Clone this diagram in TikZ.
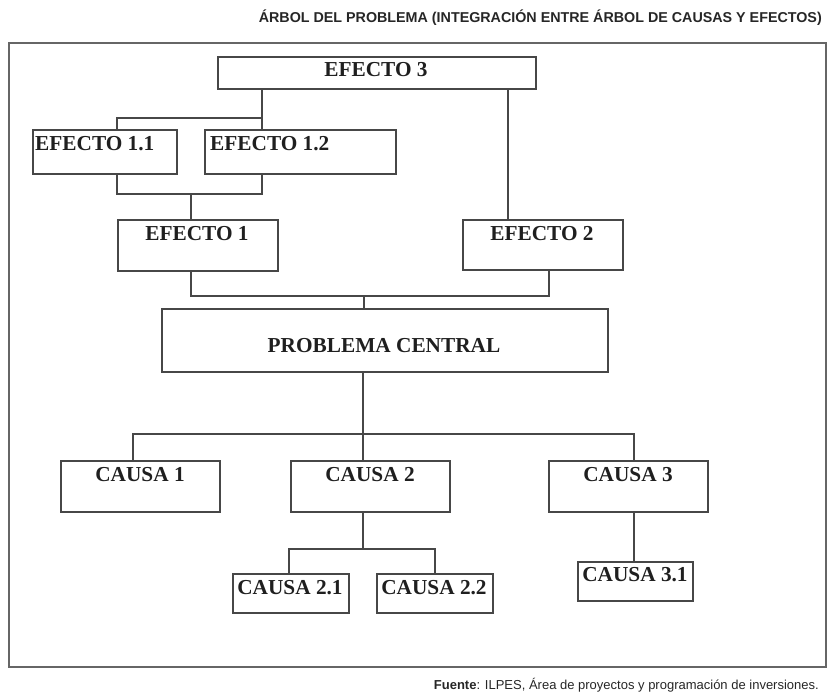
\documentclass[tikz,border=0pt]{standalone}
\usepackage{fontspec}
\setmainfont{Liberation Serif}
\newfontfamily\sansfont{Liberation Sans}
\begin{document}
\begin{tikzpicture}[x=1pt,y=-1pt,
  wire/.style={draw=black!72, line width=1.7pt},
  box/.style={draw=black!72, line width=1.7pt, rectangle, inner sep=0pt, anchor=north west},
  lbl/.style={font=\fontsize{21.3}{21}\selectfont\bfseries, text=black!88, inner sep=0pt, anchor=base},
  lbll/.style={lbl, anchor=base west},
  frame/.style={draw=black!60, line width=1.8pt},
  ]
\useasboundingbox (0,0) rectangle (828,694);

% title and source
\node[font=\sansfont\bfseries\fontsize{14.3}{14}\selectfont, text=black!85, anchor=base east, inner sep=0pt]
  (title) at (822,22) {ÁRBOL DEL PROBLEMA (INTEGRACIÓN ENTRE ÁRBOL DE CAUSAS Y EFECTOS)};
\node[font=\sansfont\fontsize{13}{13}\selectfont, text=black!85, anchor=base east, inner sep=0pt]
  (src) at (819,689) {\textbf{Fuente}: ILPES, Área de proyectos y programación de inversiones.};

% outer frame
\draw[frame] (9,43) rectangle (826,667);

% effect boxes
\node[box, minimum width=318pt, minimum height=32pt] (e3)  at (217,56) {};
\node[box, minimum width=144pt, minimum height=44pt] (e11) at (32,129) {};
\node[box, minimum width=191pt, minimum height=44pt] (e12) at (204,129) {};
\node[box, minimum width=160pt, minimum height=51pt] (e1)  at (117,219) {};
\node[box, minimum width=160pt, minimum height=50pt] (e2)  at (462,219) {};
% central problem
\node[box, minimum width=446pt, minimum height=63pt] (pc)  at (161,308) {};
% cause boxes
\node[box, minimum width=159pt, minimum height=51pt] (c1)  at (60,460) {};
\node[box, minimum width=159pt, minimum height=51pt] (c2)  at (290,460) {};
\node[box, minimum width=159pt, minimum height=51pt] (c3)  at (548,460) {};
\node[box, minimum width=116pt, minimum height=39pt] (c21) at (232,573) {};
\node[box, minimum width=116pt, minimum height=39pt] (c22) at (376,573) {};
\node[box, minimum width=115pt, minimum height=39pt] (c31) at (577,561) {};

% labels
\node[lbl]  (e3t)  at (376,76)  {EFECTO 3};
\node[lbll] (e11t) at (35,150)  {EFECTO 1.1};
\node[lbll] (e12t) at (210,150) {EFECTO 1.2};
\node[lbl]  (e1t)  at (197,240) {EFECTO 1};
\node[lbl]  (e2t)  at (542,240) {EFECTO 2};
\node[lbl]  (pct)  at (384,352) {PROBLEMA CENTRAL};
\node[lbl]  (c1t)  at (140,481) {CAUSA 1};
\node[lbl]  (c2t)  at (370,481) {CAUSA 2};
\node[lbl]  (c3t)  at (628,481) {CAUSA 3};
\node[lbl]  (c21t) at (290,594) {CAUSA 2.1};
\node[lbl]  (c22t) at (434,594) {CAUSA 2.2};
\node[lbl]  (c31t) at (635,581) {CAUSA 3.1};

% junction points
\coordinate (ja) at (262,118);
\coordinate (jb) at (117,118);
\coordinate (jc) at (117,194);
\coordinate (jd) at (262,194);
\coordinate (je) at (191,194);
\coordinate (ji) at (508,150);
\coordinate (jf) at (191,296);
\coordinate (jg) at (549,296);
\coordinate (jh) at (364,296);
\coordinate (jj) at (363,434);
\coordinate (jk) at (133,434);
\coordinate (jl) at (634,434);
\coordinate (jm) at (363,549);
\coordinate (jn) at (289,549);
\coordinate (jo) at (435,549);

% effect tree
\draw[wire] (e3.south -| ja) -- (e12.north -| ja);
\draw[wire] (ja) -- (jb) -- (e11.north -| jb);
\draw[wire] (e11.south -| jc) -- (jc) -- (jd) -- (e12.south -| jd);
\draw[wire] (je) -- (e1.north -| je);
\draw[wire] (e3.south -| ji) -- (e2.north -| ji);
\draw[wire] (e1.south -| jf) -- (jf) -- (jg) -- (e2.south -| jg);
\draw[wire] (jh) -- (pc.north -| jh);
% cause tree
\draw[wire] (pc.south -| jj) -- (c2.north -| jj);
\draw[wire] (c1.north -| jk) -- (jk) -- (jl) -- (c3.north -| jl);
\draw[wire] (c2.south -| jm) -- (jm);
\draw[wire] (c21.north -| jn) -- (jn) -- (jo) -- (c22.north -| jo);
\draw[wire] (c3.south -| jl) -- (c31.north -| jl);
\end{tikzpicture}
\end{document}
